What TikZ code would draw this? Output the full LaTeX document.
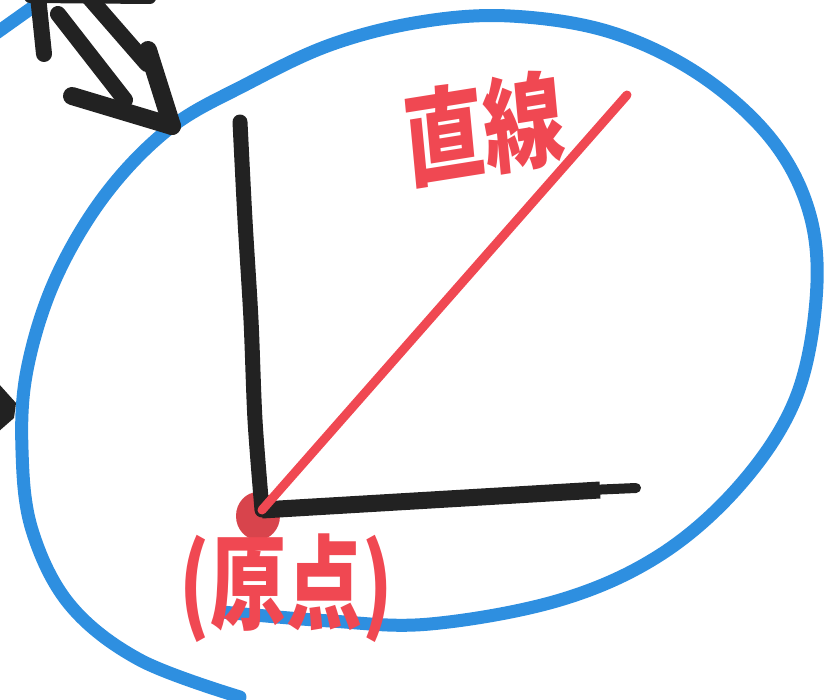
\documentclass[tikz,border=0pt]{standalone}
\usepackage{fontspec}
\newfontfamily\cjk{Noto Sans CJK JP}
\definecolor{penblue}{HTML}{2E8FE0}
\definecolor{penred}{HTML}{F04852}
\definecolor{dotred}{HTML}{D8444C}
\definecolor{ink}{HTML}{222222}
\tikzset{
  bluepen/.style={draw=penblue,line width=13pt,line cap=round,line join=round},
  inkpen/.style={draw=ink,line width=15pt,line cap=round,line join=round},
  redpen/.style={draw=penred,line width=9pt,line cap=round},
  label/.style={text=penred,font=\cjk\bfseries\fontsize{80pt}{80pt}\selectfont,inner sep=0pt}
}
\begin{document}
\begin{tikzpicture}[x=1pt,y=-1pt]
\useasboundingbox (0,0) rectangle (838,700);
% blue loop
\draw[bluepen] plot[smooth,tension=0.6] coordinates{
 (222,612) (330,621) (430,624) (560,600) (660,555) (740,485) (795,400)
 (816,300) (810,215) (772,140) (700,75) (610,32) (510,16) (420,22)
 (330,45) (245,85) (170,128) (105,195) (55,280) (27,370) (22,450)
 (32,530) (70,605) (140,660) (240,697)};
\draw[bluepen] (-5,34) -- (40,2);
% black double arrow (top-left)
\coordinate (tip) at (172,126);
\draw[inkpen,line width=16pt] (58,14) -- (125,100);
\draw[inkpen,line width=16pt] (86,-6) -- (147,64);
\draw[inkpen,line width=18pt] (72,96) -- (tip);
\draw[inkpen,line width=18pt] (148,50) -- (tip);
\draw[inkpen,line width=16pt] (44,54) -- (38,-4);
\draw[inkpen,line width=12pt] (30,-3) -- (150,-2);
% black mark on left edge
\fill[ink] (-2,383) -- (16,403) -- (14,418) -- (-2,432) -- cycle;
% origin dot
\coordinate (O) at (262,510);
\fill[dotred] (258,516) ellipse [x radius=22, y radius=24];
% axes
\coordinate (ytop) at (240,122);
\coordinate (xend) at (636,488);
\draw[inkpen] plot[smooth] coordinates{(ytop) (245,220) (251,320) (255,420) (O)};
\draw[inkpen,line width=17pt,line cap=butt] (O) -- (600,490);
\draw[ink,line width=10pt,line cap=round] (590,490) -- (xend);
% red line
\coordinate (rend) at (627,95);
\draw[redpen] (O) -- (rend);
% labels
\node[label,yscale=1.3,rotate=7] (line) at (484,128) {直線};
\node[label,yscale=1.35,font=\cjk\bfseries\fontsize{76pt}{76pt}\selectfont] (origin) at (286,588) {(原点)};
\end{tikzpicture}
\end{document}
